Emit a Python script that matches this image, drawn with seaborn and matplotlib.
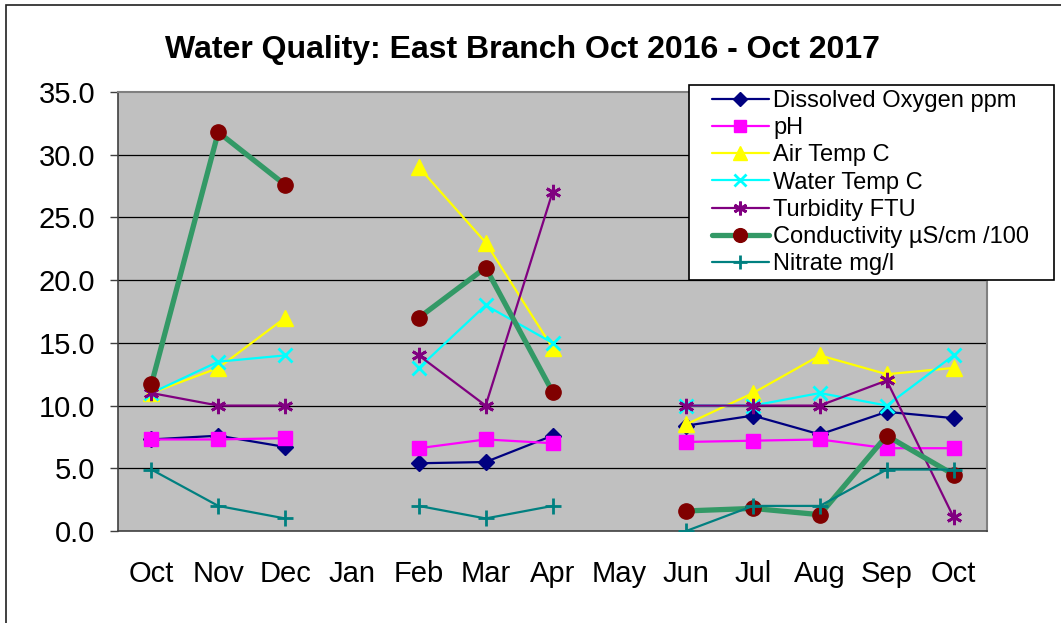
import numpy as np
import pandas as pd
import matplotlib
matplotlib.use("Agg")
import matplotlib.pyplot as plt
from matplotlib.lines import Line2D
from matplotlib.patches import Rectangle
import seaborn as sns

nan = np.nan

# Meses (13 categorias, Jan y May sin datos)
months = ["Oct", "Nov", "Dec", "Jan", "Feb", "Mar", "Apr", "May",
          "Jun", "Jul", "Aug", "Sep", "Oct"]

dissolved_oxygen = [7.3, 7.6, 6.7, nan, 5.4, 5.5, 7.6, nan, 8.4, 9.2, 7.7, 9.5, 9.0]
ph = [7.3, 7.3, 7.4, nan, 6.6, 7.3, 7.0, nan, 7.1, 7.2, 7.3, 6.6, 6.6]
air_temp = [11.0, 13.0, 17.0, nan, 29.0, 23.0, 14.6, nan, 8.5, 11.0, 14.0, 12.5, 13.0]
water_temp = [11.0, 13.5, 14.0, nan, 13.0, 18.0, 15.0, nan, 10.0, 10.0, 11.0, 10.0, 14.0]
turbidity = [11.0, 10.0, 10.0, nan, 14.0, 10.0, 27.0, nan, 10.0, 10.0, 10.0, 12.0, 1.1]
conductivity = [11.7, 31.8, 27.6, nan, 17.0, 21.0, 11.1, nan, 1.6, 1.8, 1.3, 7.6, 4.5]
nitrate = [4.9, 2.0, 1.0, nan, 2.0, 1.0, 2.0, nan, 0.0, 2.0, 2.0, 4.9, 4.9]

series = [
    ("Dissolved Oxygen ppm", dissolved_oxygen),
    ("pH", ph),
    ("Air Temp C", air_temp),
    ("Water Temp C", water_temp),
    ("Turbidity FTU", turbidity),
    ("Conductivity \u00b5S/cm /100", conductivity),
    ("Nitrate mg/l", nitrate),
]

# Estilo de cada serie (linea, marcador)
styles = {
    "Dissolved Oxygen ppm": dict(color="#000080", marker="D", mfc="#000080", mec="#000080", ms=8, lw=1.6),
    "pH": dict(color="#FF00FF", marker="s", mfc="#FF00FF", mec="#FF00FF", ms=10, lw=1.6),
    "Air Temp C": dict(color="#FFFF00", marker="^", mfc="#FFFF00", mec="#FFFF00", ms=11, lw=1.6),
    "Water Temp C": dict(color="#00FFFF", marker="x", mfc="#00FFFF", mec="#00FFFF", ms=10, lw=1.6, mew=2),
    "Turbidity FTU": dict(color="#800080", marker=(6, 2, 0), mfc="#800080", mec="#800080", ms=11, lw=1.6, mew=2),
    "Conductivity \u00b5S/cm /100": dict(color="#339966", marker="o", mfc="#800000", mec="#800000", ms=11, lw=3.8),
    "Nitrate mg/l": dict(color="#008080", marker="+", mfc="#008080", mec="#008080", ms=11, lw=1.6, mew=2),
}

sns.set_style("white")
plt.rcParams["font.family"] = ["Liberation Sans", "DejaVu Sans"]
plt.rcParams["text.color"] = "black"
plt.rcParams["xtick.color"] = "black"
plt.rcParams["ytick.color"] = "black"

fig = plt.figure(figsize=(10.61, 6.23), dpi=100)
ax = fig.add_axes([118 / 1061, 1 - 531 / 623, (987 - 118) / 1061, (531 - 92) / 623])
ax.set_facecolor("#C0C0C0")

x = np.arange(len(months))
handles = []
for name, vals in series:
    st = styles[name]
    v = np.array(vals, dtype=float)
    # segmentos continuos (se corta en los meses sin datos)
    seg = np.cumsum(np.isnan(v))
    df = pd.DataFrame({"pos": x, "val": v, "seg": seg}).dropna()
    sns.lineplot(data=df, x="pos", y="val", units="seg", estimator=None, ax=ax,
                 color=st["color"], lw=st["lw"], marker=st["marker"],
                 markersize=st["ms"], markerfacecolor=st["mfc"],
                 markeredgecolor=st["mec"], markeredgewidth=st.get("mew", 1),
                 legend=False, zorder=3)
    handles.append(Line2D([], [], color=st["color"], lw=st["lw"], marker=st["marker"],
                          markersize=st["ms"] * 0.9, markerfacecolor=st["mfc"],
                          markeredgecolor=st["mec"], markeredgewidth=st.get("mew", 1),
                          label=name))

ax.set_xlim(-0.5, len(months) - 0.5)
ax.set_ylim(0, 35)
ax.set_yticks(np.arange(0, 36, 5))
ax.set_yticklabels([f"{t:.1f}" for t in np.arange(0, 36, 5)], fontsize=21)
ax.set_xticks(x)
ax.set_xticklabels(months, fontsize=21)
ax.set_xticks(np.arange(-0.5, len(months), 1), minor=True)
ax.tick_params(axis="x", which="major", length=0, pad=21)
ax.tick_params(axis="x", which="minor", length=5.8, width=1, color="#404040", direction="out")
ax.tick_params(axis="y", length=5.8, width=1, color="#404040", direction="out", pad=10.5, left=True)
ax.set_xlabel("")
ax.set_ylabel("")
ax.grid(False)
for yv in np.arange(5, 35, 5):
    ax.axhline(yv, color="black", lw=0.9, zorder=1)

for side in ["left", "bottom"]:
    ax.spines[side].set_color("#404040")
    ax.spines[side].set_linewidth(1.2)
for side in ["top", "right"]:
    ax.spines[side].set_color("#808080")
    ax.spines[side].set_linewidth(1.5)

fig.text(522 / 1061, 1 - 50 / 623, "Water Quality: East Branch Oct 2016 - Oct 2017",
         ha="center", va="center", fontsize=23, fontweight="bold")

# caja de la leyenda
fig.patches.append(Rectangle((689 / 1061, 1 - 280 / 623), (1054 - 689) / 1061, 195 / 623,
                             transform=fig.transFigure, facecolor="white",
                             edgecolor="black", lw=1.2, zorder=5))
leg = fig.legend(handles=handles, loc="upper left", bbox_to_anchor=(712 / 1061, 1 - 90 / 623),
                 fontsize=17, frameon=False, borderpad=0,
                 labelspacing=0.22, handlelength=2.4, handletextpad=0.2, borderaxespad=0)
leg.set_zorder(6)

# marco exterior del grafico
fig.patches.append(Rectangle((6 / 1061, -0.05), 1.2, 1 - 5 / 623 + 0.05, transform=fig.transFigure,
                             fill=False, edgecolor="#202020", lw=1.2))

fig.savefig("out.png", dpi=100)
